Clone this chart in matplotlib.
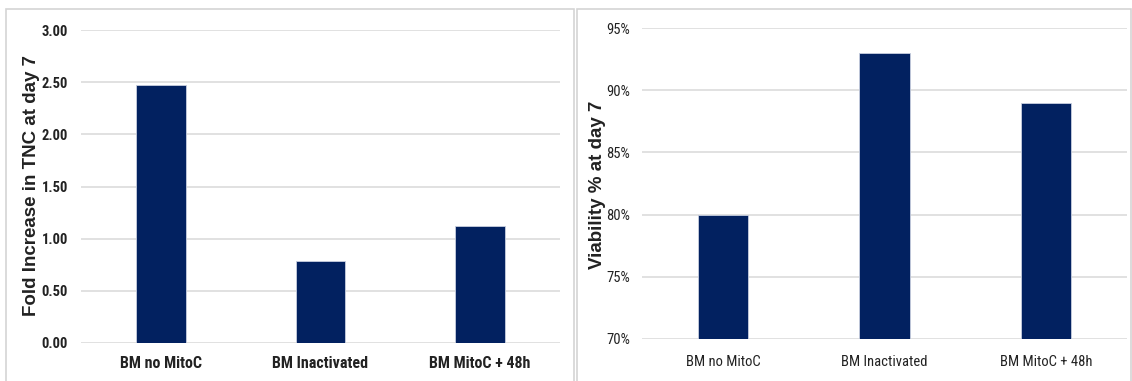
import matplotlib
matplotlib.use("Agg")
import matplotlib.pyplot as plt
from matplotlib.patches import Rectangle
from matplotlib.ticker import FuncFormatter

categories = ["BM no MitoC", "BM Inactivated", "BM MitoC + 48h"]
fold_increase = [2.47, 0.79, 1.12]
viability = [0.80, 0.93, 0.89]

fold_ticks = [0.0, 0.5, 1.0, 1.5, 2.0, 2.5, 3.0]
viab_ticks = [0.70, 0.75, 0.80, 0.85, 0.90, 0.95]

BAR = "#022160"
GRID = "#d9d9d9"
TEXT = "#222222"
NARROW = ["Roboto Condensed", "Liberation Sans", "DejaVu Sans"]
WIDE = ["Liberation Sans", "DejaVu Sans"]

W, H = 1132, 381
fig = plt.figure(figsize=(W / 100, H / 100), dpi=100)


def px_axes(x0, y0, x1, y1):
    return fig.add_axes([x0 / W, (H - y1) / H, (x1 - x0) / W, (y1 - y0) / H])


# light frames round each panel
for x0, x1 in [(6, 574), (577, 1131)]:
    fig.patches.append(Rectangle((x0 / W, -0.01), (x1 - x0) / W, (H - 9) / H + 0.01,
                                 transform=fig.transFigure, fill=False,
                                 edgecolor="#d4d4d4", linewidth=1.2))


def style(ax, ticks, fmt, bold, ysize, xsize, ypad, xpad):
    ax.set_xlim(-0.5, 2.5)
    ax.set_ylim(ticks[0], ticks[-1])
    ax.set_yticks(ticks)
    ax.yaxis.set_major_formatter(FuncFormatter(fmt))
    ax.grid(axis="y", color=GRID, linewidth=1.1)
    ax.set_axisbelow(True)
    for s in ax.spines.values():
        s.set_visible(False)
    ax.tick_params(length=0)
    ax.tick_params(axis="y", pad=ypad)
    ax.tick_params(axis="x", pad=xpad)
    ax.set_xticks(range(len(categories)))
    ax.set_xticklabels(categories)
    weight = "bold" if bold else "normal"
    for t in ax.get_yticklabels():
        t.set_family(NARROW)
        t.set_fontsize(ysize)
        t.set_fontweight(weight)
        t.set_color(TEXT)
    for t in ax.get_xticklabels():
        t.set_family(NARROW)
        t.set_fontsize(xsize)
        t.set_fontweight(weight)
        t.set_color(TEXT)


def ylabel(x, y, text):
    fig.text(x / W, (H - y) / H, text, rotation=90, ha="center", va="center",
             family=WIDE, fontsize=13.5, fontweight="bold", color=TEXT)


ax1 = px_axes(81, 30, 560, 343)
ax1.bar(range(len(categories)), fold_increase, width=0.313, color=BAR,
        edgecolor="#c8cfe0", linewidth=0.6)
style(ax1, fold_ticks, lambda v, p: f"{v:.2f}", True, 10.5, 11.5, 9.4, 9.5)
ylabel(32, 186, "Fold Increase in TNC at day 7")

ax2 = px_axes(642, 28, 1127, 339)
ax2.bar(range(len(categories)), viability, width=0.313, color=BAR,
        edgecolor="#c8cfe0", linewidth=0.6)
style(ax2, viab_ticks, lambda v, p: f"{v * 100:.0f}%", False, 10.5, 10.5, 8.6, 11.5)
ylabel(597, 185, "Viability % at day 7")

fig.savefig("out.png", dpi=100)
